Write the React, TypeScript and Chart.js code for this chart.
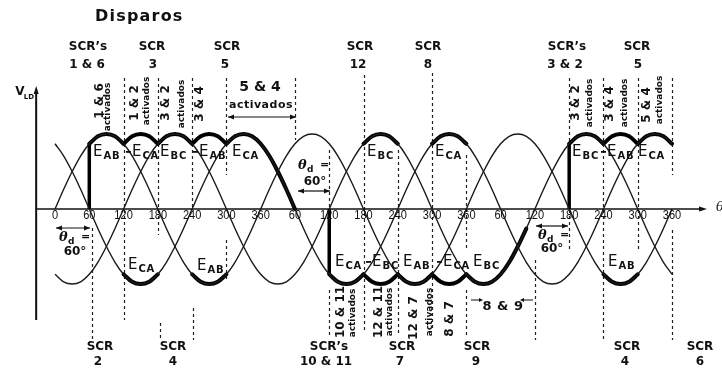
import React, { useEffect, useRef } from 'react';
import { Chart, registerables } from 'chart.js';

Chart.register(...registerables);

// ---------- data ----------
const STEP_DEG = 15;
// one period of the line voltage, every 15 degrees (per-unit)
const WAVE = [0, 0.26, 0.5, 0.71, 0.87, 0.97, 1, 0.97, 0.87, 0.71, 0.5, 0.26, 0, -0.26, -0.5, -0.71, -0.87, -0.97, -1, -0.97, -0.87, -0.71, -0.5, -0.26];
const ANGLE_START = 0;
const ANGLE_END = 1080;
const PHASE_LAG: Record<string, number> = { AB: 0, BC: 120, CA: 240 };
const CURVES = ['AB', 'BC', 'CA'];
const TICK_ANGLES = [0, 60, 120, 180, 240, 300, 360, 420, 480, 540, 600, 660, 720, 780, 840, 900, 960, 1020, 1080];
const TICK_LABELS = ['0', '60', '120', '180', '240', '300', '360', '60', '120', '180', '240', '300', '360', '60', '120', '180', '240', '300', '360'];
// [curve, sign, from angle, to angle] – heavy (conducting) parts of the output voltage
const UPPER_SEGMENTS: [string, number, number, number][] = [
  ['AB', 1, 60, 120], ['CA', -1, 120, 180], ['BC', 1, 180, 240], ['AB', -1, 240, 300], ['CA', 1, 300, 420],
  ['BC', 1, 540, 600], ['CA', 1, 660, 720],
  ['BC', 1, 900, 960], ['AB', -1, 960, 1020], ['CA', 1, 1020, 1080],
];
const LOWER_SEGMENTS: [string, number, number, number][] = [
  ['CA', 1, 120, 180], ['AB', 1, 240, 300],
  ['CA', 1, 480, 540], ['BC', -1, 540, 600], ['AB', 1, 600, 660], ['CA', -1, 660, 720], ['BC', 1, 720, 825],
  ['AB', 1, 960, 1020],
];
// firing instants: [angle, voltage reached]
const JUMPS: [number, number][] = [[60, 0.87], [480, -0.87], [900, 0.87]];

// ---------- layout ----------
const W = 722;
const H = 369;
const X_MIN = -96.3;
const X_MAX = 1167.5;
const Y_MIN = -2.133;
const Y_MAX = 2.787;
const Y_AXIS_AT = -33;
const X_AXIS_END_PX = 707;

const BOLD = 'bold 12px "DejaVu Sans"';
const SCR_TOP = [
  ['SCR’s', 88, 47], ['1 & 6', 87, 65], ['SCR', 152, 47], ['3', 153, 65], ['SCR', 227, 47], ['5', 225, 65],
  ['SCR', 360, 47], ['12', 358, 65], ['SCR', 428, 47], ['8', 428, 65], ['SCR’s', 567, 47], ['3 & 2', 565, 65],
  ['SCR', 637, 47], ['5', 638, 65],
];
const SCR_BOTTOM = [
  ['SCR', 100, 347], ['2', 98, 362], ['SCR', 173, 347], ['4', 173, 362], ['SCR’s', 329, 347], ['10 & 11', 326, 362],
  ['SCR', 402, 347], ['7', 400, 362], ['SCR', 477, 347], ['9', 476, 362], ['SCR', 627, 347], ['4', 625, 362],
  ['SCR', 700, 347], ['6', 700, 362],
];
// rotated texts [text, x, centre y, big?]
const VERT_TEXT: [string, number, number, boolean][] = [
  ['1 & 6', 100, 101, true], ['activados', 108, 107, false], ['1 & 2', 135, 103, true], ['activados', 147, 101, false],
  ['3 & 2', 166, 103, true], ['activados', 182, 104, false], ['3 & 4', 200, 104, true],
  ['3 & 2', 576, 103, true], ['activados', 590, 103, false], ['3 & 4', 610, 104, true], ['activados', 625, 103, false],
  ['5 & 4', 647, 105, true], ['activados', 660, 100, false],
  ['10 & 11', 341, 312, true], ['activados', 353, 313, false], ['12 & 11', 379, 312, true], ['activados', 390, 312, false],
  ['12 & 7', 414, 318, true], ['activados', 430, 312, false], ['8 & 7', 450, 319, true],
];
// E labels [left x, y, minus?, subscript]
const E_LABELS: [number, number, boolean, string][] = [
  [93, 152, false, 'AB'], [126, 152, true, 'CA'], [160, 152, false, 'BC'], [193, 152, true, 'AB'], [232, 152, false, 'CA'],
  [367, 152, false, 'BC'], [435, 152, false, 'CA'], [572, 152, false, 'BC'], [601, 152, true, 'AB'], [638, 152, false, 'CA'],
  [128, 265, false, 'CA'], [197, 266, false, 'AB'], [335, 262, false, 'CA'], [366, 262, true, 'BC'], [403, 262, false, 'AB'],
  [437, 262, true, 'CA'], [473, 262, false, 'BC'], [608, 262, false, 'AB'],
];
// dashed guides [angle, y1 px, y2 px]
const GUIDES: [number, number, number][] = [
  [120, 78, 320], [180, 78, 235], [240, 78, 208], [300, 78, 175], [300, 240, 282], [420, 78, 140], [64, 228, 340],
  [184, 323, 340], [242, 308, 340], [480, 150, 208], [480, 290, 337], [540, 75, 333], [600, 150, 333], [660, 73, 330],
  [720, 155, 250], [720, 290, 335], [840, 260, 340], [900, 78, 250], [960, 78, 340], [1020, 78, 250], [1080, 78, 175],
  [1080, 230, 340],
];

function curveAt(curve: string, angle: number): number {
  const n = WAVE.length;
  const i = ((((angle - PHASE_LAG[curve]) / STEP_DEG) % n) + n) % n;
  return WAVE[i];
}

function pts(curve: string, sign: number, a: number, b: number) {
  const out: { x: number; y: number }[] = [];
  for (let t = a; t <= b; t += STEP_DEG) out.push({ x: t, y: sign * curveAt(curve, t) });
  return out;
}

function txt(ctx: CanvasRenderingContext2D, s: string, x: number, y: number, font: string, o: any = {}) {
  ctx.save();
  ctx.translate(x, y);
  if (o.rotate) ctx.rotate(o.rotate);
  if (o.scaleX) ctx.scale(o.scaleX, 1);
  ctx.font = font;
  (ctx as any).letterSpacing = (o.spacing || 0) + 'px';
  ctx.textAlign = o.align || 'center';
  ctx.textBaseline = 'middle';
  ctx.fillStyle = '#111';
  ctx.fillText(s, 0, 0);
  ctx.restore();
}

function head(ctx: CanvasRenderingContext2D, x: number, y: number, dir: number, len = 6, half = 2.5) {
  ctx.beginPath();
  ctx.moveTo(x, y);
  ctx.lineTo(x - dir * len, y - half);
  ctx.lineTo(x - dir * len, y + half);
  ctx.closePath();
  ctx.fill();
}

function hArrow(ctx: CanvasRenderingContext2D, x1: number, x2: number, y: number) {
  ctx.save();
  ctx.strokeStyle = '#111';
  ctx.fillStyle = '#111';
  ctx.lineWidth = 1.2;
  ctx.beginPath();
  ctx.moveTo(x1, y);
  ctx.lineTo(x2, y);
  ctx.stroke();
  head(ctx, x1, y, -1);
  head(ctx, x2, y, 1);
  ctx.restore();
}

function thetaD(ctx: CanvasRenderingContext2D, x: number, y: number) {
  txt(ctx, 'θ', x, y, 'italic bold 13px "DejaVu Serif"', { align: 'left' });
  txt(ctx, 'd', x + 9, y + 4, 'bold 9px "DejaVu Sans"', { align: 'left' });
  txt(ctx, '=', x + 22, y - 1, 'bold 11px "DejaVu Sans"', { align: 'left' });
}

const annotations = {
  id: 'annotations',
  beforeDatasetsDraw(chart: any) {
    const { ctx } = chart;
    const xs = chart.scales.x;
    const ys = chart.scales.y;
    ctx.save();
    // guides
    ctx.strokeStyle = '#222';
    ctx.lineWidth = 1.2;
    ctx.setLineDash([3, 3]);
    for (const [a, y1, y2] of GUIDES) {
      const px = Math.round(xs.getPixelForValue(a)) + 0.5;
      ctx.beginPath();
      ctx.moveTo(px, y1);
      ctx.lineTo(px, y2);
      ctx.stroke();
    }
    ctx.setLineDash([]);
    // axes
    const y0 = ys.getPixelForValue(0);
    const xA = xs.getPixelForValue(Y_AXIS_AT);
    ctx.strokeStyle = '#111';
    ctx.fillStyle = '#111';
    ctx.lineWidth = 1.6;
    ctx.beginPath();
    ctx.moveTo(xA, y0);
    ctx.lineTo(X_AXIS_END_PX - 4, y0);
    ctx.stroke();
    head(ctx, X_AXIS_END_PX, y0, 1, 8, 2.5);
    ctx.lineWidth = 2;
    ctx.beginPath();
    ctx.moveTo(xA, 320);
    ctx.lineTo(xA, 92);
    ctx.stroke();
    ctx.beginPath();
    ctx.moveTo(xA, 86);
    ctx.lineTo(xA - 2.5, 94);
    ctx.lineTo(xA + 2.5, 94);
    ctx.closePath();
    ctx.fill();
    ctx.restore();
  },
  afterDatasetsDraw(chart: any) {
    const { ctx } = chart;
    const xs = chart.scales.x;
    const ys = chart.scales.y;
    const y0 = ys.getPixelForValue(0);
    // tick labels
    TICK_ANGLES.forEach((a, i) => {
      txt(ctx, TICK_LABELS[i], xs.getPixelForValue(a), y0 + 7, '12px "Liberation Sans"', { scaleX: 0.92 });
    });
    // axis names
    txt(ctx, 'V', 20, 92, 'bold 12px "DejaVu Sans"');
    txt(ctx, 'LD', 29, 97, 'bold 7px "DejaVu Sans"');
    txt(ctx, 'θ', 716, y0 - 1, 'italic 13px "DejaVu Serif"', { align: 'left' });
    // title
    txt(ctx, 'Disparos', 95, 17, 'bold 16px "DejaVu Sans"', { align: 'left', spacing: 1.2 });
    for (const [s, x, y] of SCR_TOP) txt(ctx, s as string, x as number, y as number, BOLD);
    for (const [s, x, y] of SCR_BOTTOM) txt(ctx, s as string, x as number, y as number, BOLD);
    for (const [s, x, y, big] of VERT_TEXT) {
      txt(ctx, s, x, y, big ? 'bold 12px "DejaVu Sans"' : 'bold 9px "DejaVu Sans"', { rotate: -Math.PI / 2 });
    }
    // 5 & 4 activados
    txt(ctx, '5 & 4', 260, 87, 'bold 14px "DejaVu Sans"');
    txt(ctx, 'activados', 261, 105, 'bold 11px "DejaVu Sans"', { spacing: 0.5 });
    hArrow(ctx, 228, 296, 117);
    // 8 & 9
    txt(ctx, '8 & 9', 503, 307, 'bold 13px "DejaVu Sans"', { spacing: 0.5 });
    ctx.save();
    ctx.fillStyle = '#111';
    ctx.strokeStyle = '#111';
    ctx.lineWidth = 1.2;
    ctx.beginPath();
    ctx.moveTo(471, 300);
    ctx.lineTo(481, 300);
    ctx.moveTo(522, 300);
    ctx.lineTo(533, 300);
    ctx.stroke();
    head(ctx, 483, 300, 1, 4, 2);
    head(ctx, 520, 300, -1, 4, 2);
    ctx.restore();
    // theta_d = 60°
    hArrow(ctx, 56, 90, 228);
    thetaD(ctx, 59, 238);
    txt(ctx, '60°', 75, 252, 'bold 12px "DejaVu Sans"');
    thetaD(ctx, 298, 166);
    txt(ctx, '60°', 315, 182, 'bold 12px "DejaVu Sans"');
    hArrow(ctx, 298, 330, 191);
    hArrow(ctx, 536, 568, 226);
    thetaD(ctx, 538, 236);
    txt(ctx, '60°', 552, 249, 'bold 12px "DejaVu Sans"');
    // E labels
    for (const [x, y, minus, sub] of E_LABELS) {
      let cx = x;
      ctx.save();
      if (minus) {
        ctx.fillStyle = '#111';
        ctx.fillRect(cx, y - 1, 5, 1.8);
        cx += 6;
      }
      ctx.font = '15px "DejaVu Sans"';
      txt(ctx, 'E', cx, y, '15px "DejaVu Sans"', { align: 'left' });
      cx += ctx.measureText('E').width + 1;
      txt(ctx, sub, cx, y + 4, 'bold 10px "DejaVu Sans"', { align: 'left', spacing: 0.8 });
      ctx.restore();
    }
  },
};

export default function App() {
  const ref = useRef<HTMLCanvasElement>(null);
  useEffect(() => {
    if (!ref.current) return;
    const datasets: any[] = [];
    for (const c of CURVES) {
      datasets.push({
        data: pts(c, 1, ANGLE_START, ANGLE_END),
        borderColor: '#1a1a1a',
        borderWidth: 1.4,
        pointRadius: 0,
        cubicInterpolationMode: 'monotone',
      });
    }
    for (const [c, s, a, b] of [...UPPER_SEGMENTS, ...LOWER_SEGMENTS]) {
      datasets.push({
        data: pts(c, s, a, b),
        borderColor: '#000',
        borderWidth: 4,
        borderCapStyle: 'round',
        pointRadius: 0,
        cubicInterpolationMode: 'monotone',
      });
    }
    for (const [a, v] of JUMPS) {
      datasets.push({
        data: [{ x: a, y: 0 }, { x: a, y: v }],
        borderColor: '#000',
        borderWidth: 3.5,
        pointRadius: 0,
        tension: 0,
      });
    }
    const chart = new Chart(ref.current, {
      type: 'line',
      data: { datasets },
      options: {
        animation: false,
        responsive: false,
        maintainAspectRatio: false,
        devicePixelRatio: 1,
        layout: { padding: 0 },
        plugins: { legend: { display: false }, tooltip: { enabled: false } },
        events: [],
        scales: {
          x: { type: 'linear', min: X_MIN, max: X_MAX, display: false },
          y: { type: 'linear', min: Y_MIN, max: Y_MAX, display: false },
        },
      },
      plugins: [annotations],
    } as any);
    return () => chart.destroy();
  }, []);
  return (
    <div style={{ position: 'fixed', left: 0, top: 0, width: W, height: H, background: '#fff' }}>
      <canvas ref={ref} width={W} height={H} style={{ display: 'block' }} />
    </div>
  );
}
